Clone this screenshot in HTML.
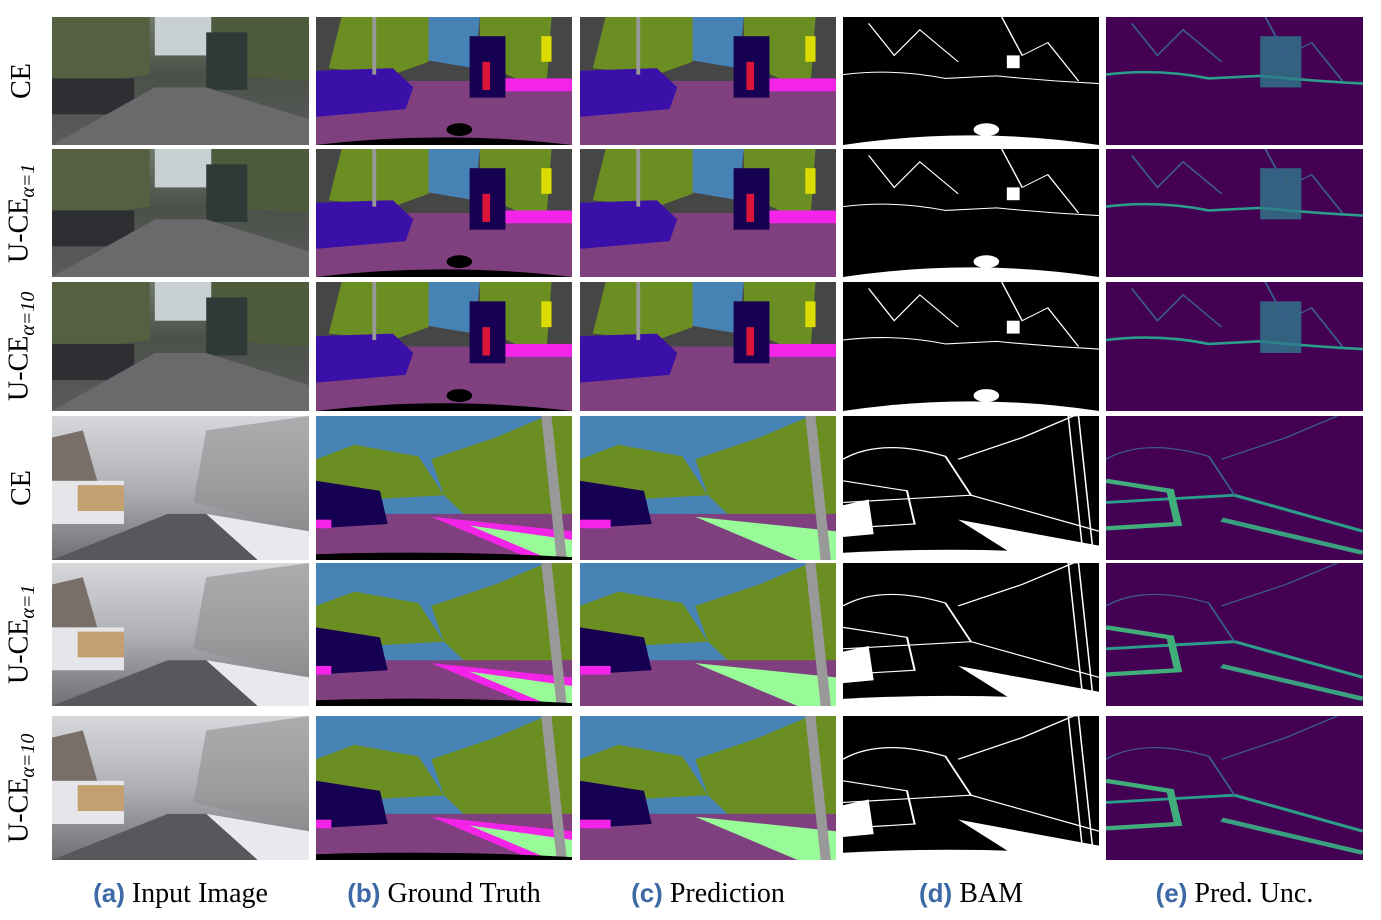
<!DOCTYPE html>
<html><head><meta charset="utf-8">
<style>
body{margin:0;width:1381px;height:920px;background:#fff;overflow:hidden;position:relative;font-family:"Liberation Serif",serif}
.cell{position:absolute;overflow:hidden}
.cell svg{width:100%;height:100%;display:block}
.rl{position:absolute;left:2px;width:40px;display:flex;align-items:center;justify-content:center}
.rl span{transform:rotate(-90deg);white-space:nowrap;font-size:28px;color:#000}
.cap{position:absolute;top:878px;font-size:28px;white-space:nowrap;text-align:center}
.cap b{font-family:"Liberation Sans",sans-serif;color:#3d6aa6;font-weight:bold;font-size:26px}
</style></head><body>
<script>
const rowLabels=[["CE",""],["U-CE","α=1"],["U-CE","α=10"],["CE",""],["U-CE","α=1"],["U-CE","α=10"]];
const captions=[["(a)","Input Image"],["(b)","Ground Truth"],["(c)","Prediction"],["(d)","BAM"],["(e)","Pred. Unc."]];
const colX=[52,316,580,843,1106];
const colW=[257,256,256,256,257];
const rowY=[17,149,282,416,563,716];
const rowH=[128,128,129,144,143,144];
const C={bld:"#464646",sky:"#4682b4",veg:"#6b8e23",road:"#804080",car:"#3a10a8",truck:"#160052",side:"#f423e8",terr:"#98fb98",pole:"#999999",sign:"#dcdc00",per:"#dc143c"};

function input(s){
  if(s===0) return `<defs><linearGradient id="g0" x1="0" y1="0" x2="0" y2="1"><stop offset="0" stop-color="#6f7a6a"/><stop offset=".45" stop-color="#4b5048"/><stop offset="1" stop-color="#5a5c5c"/></linearGradient></defs>
  <rect width="100" height="100" fill="url(#g0)"/><rect x="40" y="0" width="22" height="30" fill="#c9d0d4"/>
  <path d="M0 0 L38 0 L38 45 L0 55Z" fill="#54603f"/><path d="M62 0 L100 0 L100 50 L62 45Z" fill="#4d5a3c"/>
  <rect x="0" y="48" width="32" height="28" fill="#2d2f33"/><rect x="60" y="12" width="16" height="45" fill="#2f3a38"/>
  <path d="M0 100 L40 55 L60 55 L100 80 L100 100Z" fill="#6a6a6c"/>`;
  return `<defs><linearGradient id="g1" x1="0" y1="0" x2="0" y2="1"><stop offset="0" stop-color="#d6d8dc"/><stop offset=".5" stop-color="#aeb0b4"/><stop offset="1" stop-color="#6f6f74"/></linearGradient></defs>
  <rect width="100" height="100" fill="url(#g1)"/><path d="M0 15 L12 10 L20 60 L0 70Z" fill="#7a6e68"/>
  <rect x="0" y="45" width="28" height="30" fill="#e6e6ea"/><rect x="10" y="48" width="18" height="18" fill="#c4a070"/>
  <path d="M60 10 L100 0 L100 80 L55 60Z" fill="#8d8f90" opacity=".6"/><path d="M0 100 L45 68 L60 68 L100 100Z" fill="#57575c"/>
  <path d="M60 68 L100 80 L100 100 L80 100Z" fill="#e8e8ee"/>`;
}
function seg(s,pred){
  if(s===0) return `<rect width="100" height="100" fill="${C.bld}"/><path d="M42 0 L64 0 L62 40 L44 34Z" fill="${C.sky}"/>
  <path d="M10 0 L44 0 L44 35 L30 45 L5 40Z" fill="${C.veg}"/><path d="M64 0 L92 0 L90 55 L80 50 L64 35Z" fill="${C.veg}"/>
  <rect x="0" y="50" width="100" height="50" fill="${C.road}"/><path d="M0 42 L30 40 L38 55 L35 72 L0 78Z" fill="${C.car}"/>
  <rect x="60" y="15" width="14" height="48" fill="${C.truck}"/><rect x="74" y="48" width="26" height="10" fill="${C.side}"/>
  <rect x="65" y="35" width="3" height="22" fill="${C.per}"/><rect x="88" y="15" width="4" height="20" fill="${C.sign}"/>
  <rect x="22" y="0" width="1.5" height="45" fill="${C.pole}"/>${pred?'':'<path d="M0 100 Q50 88 100 100Z" fill="#000"/><circle cx="56" cy="88" r="5" fill="#000"/>'}`;
  return `<rect width="100" height="100" fill="${C.sky}"/><path d="M0 30 L15 20 L40 28 L50 55 L0 60Z" fill="${C.veg}"/>
  <path d="M45 30 L70 15 L90 0 L100 0 L100 70 L60 72 L50 55Z" fill="${C.veg}"/><rect x="0" y="68" width="100" height="32" fill="${C.road}"/>
  <path d="M0 45 L25 52 L28 75 L0 78Z" fill="${C.truck}"/><path d="M45 70 L100 80 L100 100 L85 100Z" fill="${pred?C.terr:C.side}"/>
  <path d="M60 76 L100 86 L100 100 L92 100Z" fill="${C.terr}"/><rect x="0" y="72" width="${pred?12:6}" height="6" fill="${C.side}"/>
  <path d="M88 0 L92 0 L98 100 L94 100Z" fill="${C.pole}"/>${pred?'':'<path d="M0 100 L0 96 Q50 93 100 98 L100 100Z" fill="#000"/>'}`;
}
function bam(s){
  let lines=s===0?`<path d="M0 45 Q20 40 40 48 L60 46 Q80 50 100 52" stroke="#fff" fill="none" stroke-width=".8"/>
  <path d="M10 5 L20 30 L30 10 L45 35 M62 0 L70 30 L80 20 L92 50" stroke="#fff" fill="none" stroke-width=".6"/>
  <path d="M0 100 Q50 85 100 100Z" fill="#fff"/><circle cx="56" cy="88" r="5" fill="#fff"/><rect x="64" y="30" width="5" height="10" fill="#fff"/>`
  :`<path d="M0 30 Q15 15 40 28 L50 55 M45 30 L70 15 L90 0 M0 60 L50 55 L100 80" stroke="#fff" fill="none" stroke-width=".8"/>
  <path d="M0 45 L25 52 L28 75 L0 78" stroke="#fff" fill="none" stroke-width=".8"/><path d="M0 62 L10 58 L12 82 L0 84Z" fill="#fff"/>
  <path d="M45 72 L100 90 L100 100 L70 100Z" fill="#fff"/><path d="M0 100 L0 95 Q50 90 100 97 L100 100Z" fill="#fff"/>
  <path d="M88 0 L92 0 L98 100 L94 100Z" stroke="#fff" fill="none" stroke-width=".6"/>`;
  return `<rect width="100" height="100" fill="#000"/>`+lines;
}
function unc(s){
  let l=s===0?`<path d="M0 45 Q20 40 40 48 L60 46 Q80 50 100 52" stroke="#2a9e8a" fill="none" stroke-width="2"/>
  <rect x="60" y="15" width="16" height="40" fill="#2f7a8c" opacity=".8"/><path d="M10 5 L20 30 L30 10 L45 35 M62 0 L70 30 L80 20 L92 50" stroke="#3b5c8c" fill="none" stroke-width=".8"/>`
  :`<path d="M0 60 L50 55 L100 80" stroke="#2a9e8a" fill="none" stroke-width="2"/><path d="M0 45 L25 52 L28 75 L0 78" stroke="#3fae7a" fill="none" stroke-width="3"/>
  <path d="M45 72 L100 95" stroke="#3aa07f" fill="none" stroke-width="3"/><path d="M0 30 Q15 15 40 28 L50 55 M45 30 L70 15 L90 0" stroke="#3b5c8c" fill="none" stroke-width=".8"/>`;
  return `<rect width="100" height="100" fill="#440154"/>`+l;
}
let html='';
for(let r=0;r<6;r++){
  const s=r<3?0:1;
  const fns=[()=>input(s),()=>seg(s,false),()=>seg(s,true),()=>bam(s),()=>unc(s)];
  const names=['input-image','ground-truth','prediction','bam','pred-uncertainty'];
  for(let c=0;c<5;c++){
    html+=`<div class="cell" style="left:${colX[c]}px;top:${rowY[r]}px;width:${colW[c]}px;height:${rowH[r]}px"><svg viewBox="0 0 100 100" preserveAspectRatio="none">${fns[c]()}</svg></div>`;
  }
  const [a,sub]=rowLabels[r];
  html+=`<div class="rl" style="top:${rowY[r]}px;height:${rowH[r]}px"><span>${a}${sub?`<sub style="font-size:20px;font-style:italic">${sub}</sub>`:''}</span></div>`;
}
for(let c=0;c<5;c++){
  html+=`<div class="cap" style="left:${colX[c]}px;width:${colW[c]}px"><b>${captions[c][0]}</b> ${captions[c][1]}</div>`;
}
document.body.insertAdjacentHTML('beforeend',html);
</script>
</body></html>
